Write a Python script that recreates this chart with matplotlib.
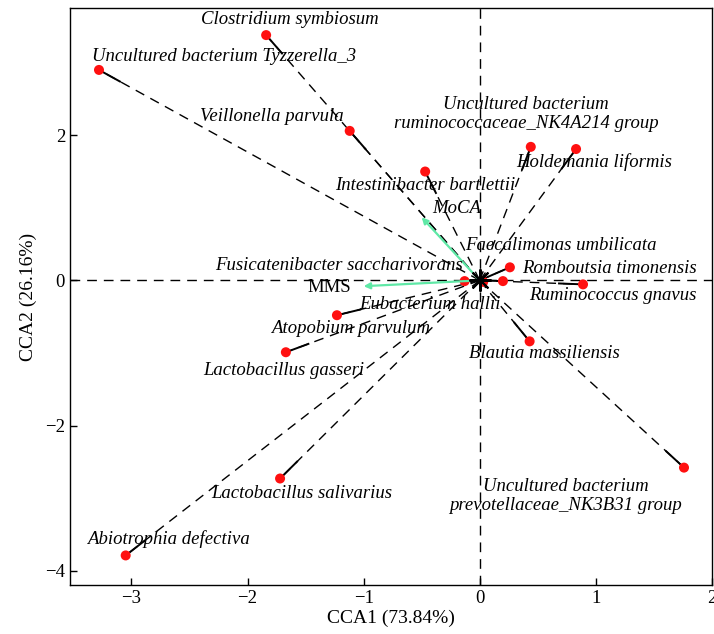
import numpy as np
import matplotlib.pyplot as plt

# ------------------------------------------------
# datos: puntuaciones CCA de las especies
# ------------------------------------------------
species = [
    "Clostridium symbiosum",
    "Uncultured bacterium Tyzzerella_3",
    "Veillonella parvula",
    "Intestinibacter bartlettii",
    "Uncultured bacterium\nruminococcaceae_NK4A214 group",
    "Holdemania liformis",
    "Romboutsia timonensis",
    "Faecalimonas umbilicata",
    "Ruminococcus gnavus",
    "Fusicatenibacter saccharivorans",
    "Eubacterium hallii",
    "Atopobium parvulum",
    "Lactobacillus gasseri",
    "Blautia massiliensis",
    "Lactobacillus salivarius",
    "Uncultured bacterium\nprevotellaceae_NK3B31 group",
    "Abiotrophia defectiva",
]
cca1 = [-1.84, -3.28, -1.12, -0.47, 0.44, 0.83, 0.26, 0.20, 0.89, -0.13,
        0.03, -1.23, -1.67, 0.43, -1.72, 1.76, -3.05]
cca2 = [3.38, 2.90, 2.06, 1.50, 1.84, 1.81, 0.18, -0.01, -0.055, -0.01,
        -0.02, -0.48, -0.99, -0.84, -2.73, -2.58, -3.79]

# variables ambientales
env_names = ["MoCA", "MMS"]
env_cca1 = [-0.50, -1.00]
env_cca2 = [0.87, -0.08]

# posiciones de las etiquetas (centro del texto)
label_pos = {
    "Clostridium symbiosum": (-1.64, 3.59),
    "Uncultured bacterium Tyzzerella_3": (-2.20, 3.08),
    "Veillonella parvula": (-1.79, 2.26),
    "Intestinibacter bartlettii": (-0.47, 1.31),
    "Uncultured bacterium\nruminococcaceae_NK4A214 group": (0.40, 2.29),
    "Holdemania liformis": (0.99, 1.63),
    "Romboutsia timonensis": (1.12, 0.17),
    "Faecalimonas umbilicata": (0.70, 0.48),
    "Ruminococcus gnavus": (1.15, -0.21),
    "Fusicatenibacter saccharivorans": (-1.21, 0.21),
    "Eubacterium hallii": (-0.43, -0.33),
    "Atopobium parvulum": (-1.11, -0.66),
    "Lactobacillus gasseri": (-1.69, -1.24),
    "Blautia massiliensis": (0.56, -1.01),
    "Lactobacillus salivarius": (-1.53, -2.94),
    "Uncultured bacterium\nprevotellaceae_NK3B31 group": (0.74, -2.97),
    "Abiotrophia defectiva": (-2.68, -3.56),
}
env_label_pos = {"MoCA": (-0.20, 0.99), "MMS": (-1.30, -0.10)}

plt.rcParams['font.family'] = ['Liberation Serif', 'DejaVu Serif']

fig = plt.figure(figsize=(7.14, 6.34), dpi=100)
ax = fig.add_axes([0.098, 0.077, 0.899, 0.910])

ax.set_xlim(-3.53, 2.0)
ax.set_ylim(-4.2, 3.75)

dash = (7, 5)
ax.axhline(0, color='black', lw=1.0, dashes=dash, zorder=1)
ax.axvline(0, color='black', lw=1.0, dashes=dash, zorder=1)

# líneas desde el origen hasta cada especie
fig.canvas.draw()
to_px = ax.transData
to_data = ax.transData.inverted()
for x, y in zip(cca1, cca2):
    ax.plot([0, x], [0, y], color='black', lw=1.0, dashes=dash, zorder=2)
    # tramo sólido corto junto al punto
    p = to_px.transform((x, y))
    o = to_px.transform((0, 0))
    d = o - p
    L = np.hypot(*d)
    seg = min(24.0, L)
    q = to_data.transform(p + d / L * seg)
    ax.plot([x, q[0]], [y, q[1]], color='black', lw=1.4, zorder=3)

ax.scatter(cca1, cca2, s=52, color='#FF1010', zorder=4, edgecolors='none')

for name in species:
    lx, ly = label_pos[name]
    ax.text(lx, ly, name, fontsize=13.5, style='italic', ha='center',
            va='center', linespacing=1.2, zorder=5)

# flechas de variables ambientales
for name, x, y in zip(env_names, env_cca1, env_cca2):
    ax.annotate('', xy=(x, y), xytext=(0, 0),
                arrowprops=dict(arrowstyle='-|>', color='#5FE8A6', lw=1.6,
                                mutation_scale=9, shrinkA=0, shrinkB=0),
                zorder=4)
    lx, ly = env_label_pos[name]
    style = 'italic' if name == "MoCA" else 'normal'
    ax.text(lx, ly, name, fontsize=13.5, style=style, ha='center', va='center',
            zorder=5)

ax.plot(0, 0, marker=(8, 2, 0), markersize=16, color='black', mew=1.5,
        zorder=6)

ax.set_xticks([-3, -2, -1, 0, 1, 2])
ax.set_yticks([-4, -2, 0, 2])
ax.set_xticklabels(['\u22123', '\u22122', '\u22121', '0', '1', '2'])
ax.set_yticklabels(['\u22124', '\u22122', '0', '2'])
ax.tick_params(direction='in', labelsize=13.5, length=5, width=1)
for s in ax.spines.values():
    s.set_linewidth(1.0)

ax.set_xlabel('CCA1 (73.84%)', fontsize=14, labelpad=2)
ax.set_ylabel('CCA2 (26.16%)', fontsize=14, labelpad=6)

fig.savefig('out.png', dpi=100)
